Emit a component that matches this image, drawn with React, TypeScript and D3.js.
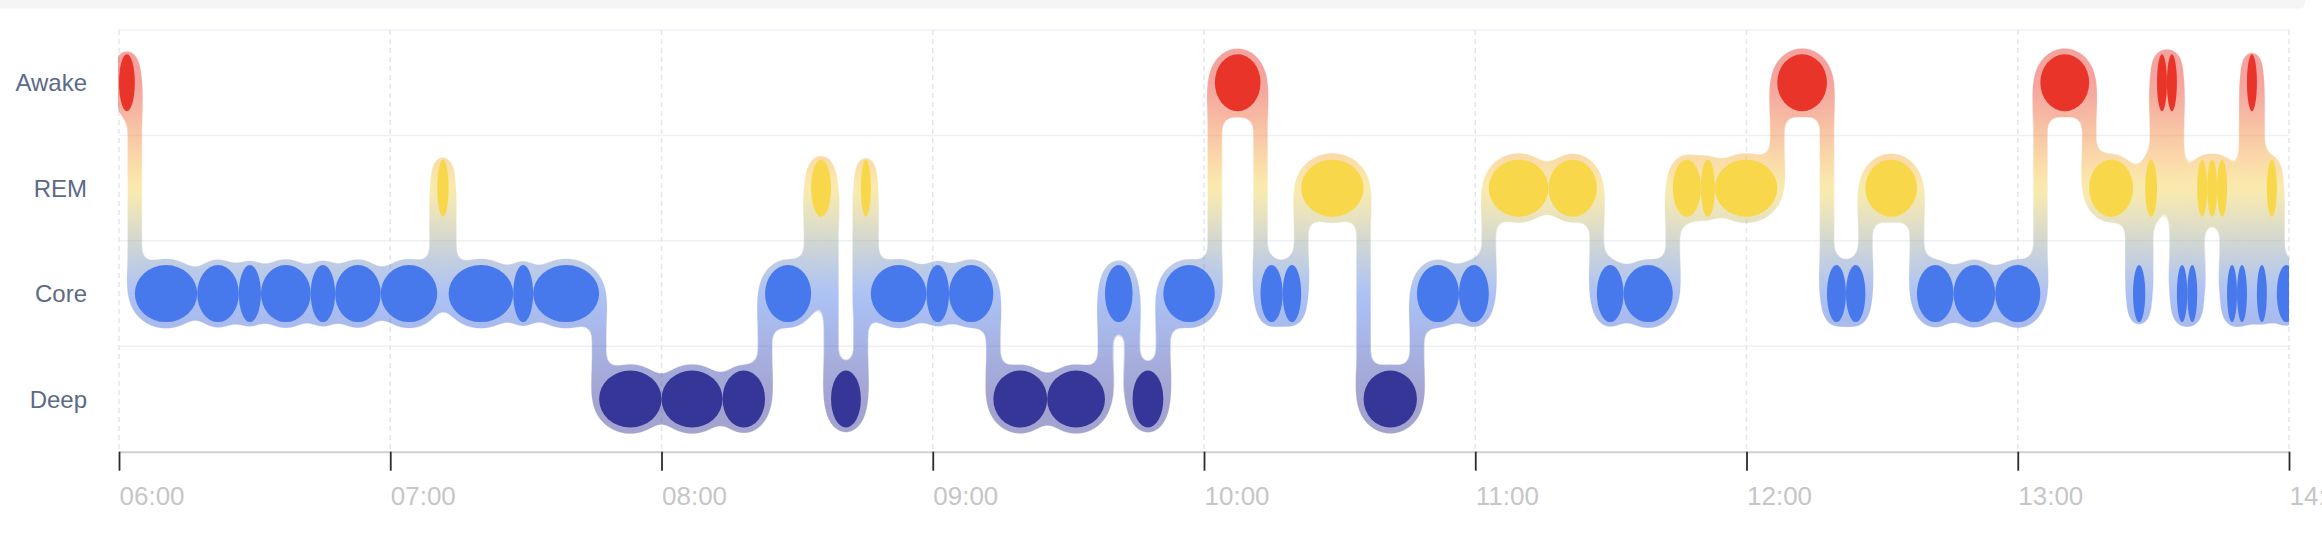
import React, { useEffect, useRef } from "react";
import * as d3 from "d3";

// sleep stages, top to bottom
const stages = ["Awake", "REM", "Core", "Deep"];
const stageColors = ["#e9342a", "#f8d74a", "#4779ec", "#353698"];

// one entry per recorded segment, minutes after 06:00
const segStage = [
  "Awake", "Core", "Core", "Core", "Core", "Core", "Core", "Core", "REM", "Core",
  "Core", "Core", "Deep", "Deep", "Deep", "Core", "REM", "Deep", "REM", "Core",
  "Core", "Core", "Deep", "Deep", "Core", "Deep", "Core", "Awake", "Core", "Core",
  "REM", "Deep", "Core", "Core", "REM", "REM", "Core", "Core", "REM", "REM",
  "REM", "Awake", "Core", "Core", "REM", "Core", "Core", "Core", "Awake", "REM",
  "Core", "REM", "Awake", "Awake", "Core", "Core", "REM", "REM", "REM", "Core",
  "Core", "Awake", "Core", "REM", "Core",
];
const segStartMin = [
  0, 3.5, 17.3, 26.5, 31.4, 42.4, 47.8, 57.9, 70.4, 72.9,
  87.2, 91.6, 106.2, 120.0, 133.5, 142.9, 153.1, 157.5, 164.1, 166.3,
  178.6, 183.6, 193.4, 205.3, 218.1, 224.2, 231.0, 242.4, 252.5, 257.4,
  261.5, 275.3, 287.1, 296.4, 303.0, 316.2, 326.9, 332.8, 343.7, 349.9,
  353.0, 366.8, 377.8, 382.0, 386.3, 397.7, 405.8, 415.0, 425.0, 435.8,
  445.5, 448.2, 450.8, 453.0, 455.2, 457.5, 459.7, 461.9, 464.1, 466.3,
  468.5, 470.7, 472.9, 475.1, 477.3,
];
const sleepEndMin = 481.5;
const axisHours = [6, 14];

const W = 2322;
const H = 542;
const margin = { top: 30, right: 33, bottom: 90.3, left: 119 };
const ellipseRy = 28.5;
const haloPad = 5.3;
const linkWidth = 12.5;
const fontFamily = "'Liberation Sans', Arial, Helvetica, sans-serif";

const SleepStages: React.FC = () => {
  const svgRef = useRef<SVGSVGElement | null>(null);

  useEffect(() => {
    if (!svgRef.current) return;
    const svg = d3.select(svgRef.current);
    svg.selectAll("*").remove();

    const base = new Date(2024, 0, 1, 0, 0, 0);
    const toDate = (m: number) => new Date(base.getTime() + (axisHours[0] * 60 + m) * 60000);

    const x = d3
      .scaleTime()
      .domain([toDate(0), toDate((axisHours[1] - axisHours[0]) * 60)])
      .range([margin.left, W - margin.right]);
    const y = d3
      .scaleBand<string>()
      .domain(stages)
      .range([margin.top, H - margin.bottom]);
    const cy = (s: string) => (y(s) ?? 0) + y.bandwidth() / 2;
    const color = d3.scaleOrdinal<string, string>().domain(stages).range(stageColors);

    const segs = segStage.map((s, i) => ({
      stage: s,
      x0: x(toDate(segStartMin[i])),
      x1: x(toDate(i + 1 < segStartMin.length ? segStartMin[i + 1] : sleepEndMin)),
    }));

    const x0 = margin.left;
    const x1 = W - margin.right;
    const yTop = margin.top;
    const yBot = H - margin.bottom;

    // card edge above
    svg.append("rect")
      .attr("x", -6).attr("y", -4).attr("width", 2311).attr("height", 12.5)
      .attr("rx", 5).attr("fill", "#f5f5f6");

    const defs = svg.append("defs");
    defs.append("clipPath").attr("id", "plotClip")
      .append("rect")
      .attr("x", x0 - 1).attr("y", 0)
      .attr("width", x1 - x0 + 1).attr("height", H);

    const grad = defs.append("linearGradient")
      .attr("id", "stageGrad")
      .attr("gradientUnits", "userSpaceOnUse")
      .attr("x1", 0).attr("x2", 0)
      .attr("y1", cy(stages[0])).attr("y2", cy(stages[stages.length - 1]));
    stages.forEach((s, i) => {
      grad.append("stop")
        .attr("offset", i / (stages.length - 1))
        .attr("stop-color", color(s));
    });

    const filter = defs.append("filter")
      .attr("id", "goo")
      .attr("filterUnits", "userSpaceOnUse")
      .attr("x", 0).attr("y", 0).attr("width", W).attr("height", H)
      .attr("color-interpolation-filters", "sRGB");
    filter.append("feGaussianBlur")
      .attr("in", "SourceGraphic").attr("stdDeviation", 8).attr("result", "blur");
    filter.append("feColorMatrix")
      .attr("in", "blur").attr("mode", "matrix")
      .attr("values", "1 0 0 0 0  0 1 0 0 0  0 0 1 0 0  0 0 0 18 -7");

    // grid
    stages.forEach((s) => {
      svg.append("line")
        .attr("x1", x0).attr("x2", x1)
        .attr("y1", y(s)!).attr("y2", y(s)!)
        .attr("stroke", "#edf1f6").attr("stroke-width", 1.5);
    });
    const hours = x.ticks(d3.timeHour.every(1)!);
    svg.append("g")
      .selectAll("line")
      .data(hours)
      .join("line")
      .attr("x1", (d) => x(d)).attr("x2", (d) => x(d))
      .attr("y1", yTop).attr("y2", yBot)
      .attr("stroke", "#e3e6ee").attr("stroke-width", 1.5)
      .attr("stroke-dasharray", "5,4");

    // halo
    const haloClip = svg.append("g").attr("clip-path", "url(#plotClip)");
    const halo = haloClip.append("g")
      .attr("filter", "url(#goo)")
      .attr("opacity", 0.45);
    halo.selectAll("ellipse")
      .data(segs)
      .join("ellipse")
      .attr("cx", (d) => (d.x0 + d.x1) / 2)
      .attr("cy", (d) => cy(d.stage))
      .attr("rx", (d) => (d.x1 - d.x0) / 2)
      .attr("ry", ellipseRy)
      .attr("fill", "url(#stageGrad)")
      .attr("stroke", "url(#stageGrad)")
      .attr("stroke-width", haloPad * 2);
    const links = segs
      .map((d, i) => (i > 0 && segs[i - 1].stage !== d.stage ? { x: d.x0, a: cy(segs[i - 1].stage), b: cy(d.stage) } : null))
      .filter((d): d is { x: number; a: number; b: number } => d !== null);
    halo.selectAll("rect")
      .data(links)
      .join("rect")
      .attr("x", (d) => d.x - linkWidth / 2)
      .attr("width", linkWidth)
      .attr("y", (d) => Math.min(d.a, d.b))
      .attr("height", (d) => Math.abs(d.a - d.b))
      .attr("fill", "url(#stageGrad)");

    // segments
    haloClip.append("g")
      .selectAll("ellipse")
      .data(segs)
      .join("ellipse")
      .attr("cx", (d) => (d.x0 + d.x1) / 2)
      .attr("cy", (d) => cy(d.stage))
      .attr("rx", (d) => (d.x1 - d.x0) / 2)
      .attr("ry", ellipseRy)
      .attr("fill", (d) => color(d.stage));

    // x axis
    const xAxis = d3.axisBottom(x)
      .ticks(d3.timeHour.every(1)!)
      .tickFormat((d) => d3.timeFormat("%H:%M")(d as Date))
      .tickSize(19)
      .tickSizeOuter(0);
    const gx = svg.append("g")
      .attr("transform", `translate(0,${yBot})`)
      .call(xAxis);
    gx.select(".domain").attr("stroke", "#cfcfcf").attr("stroke-width", 2);
    gx.selectAll(".tick line").attr("stroke", "#2b2b2b").attr("stroke-width", 1.8);
    gx.selectAll(".tick text")
      .attr("x", 0).attr("y", 53).attr("dy", 0)
      .attr("text-anchor", "start")
      .attr("fill", "#c6c6c6")
      .style("font-size", "26px")
      .style("font-family", fontFamily);

    // y labels
    svg.append("g")
      .selectAll("text")
      .data(stages)
      .join("text")
      .attr("x", 87)
      .attr("y", (d) => cy(d))
      .attr("dy", "0.36em")
      .attr("text-anchor", "end")
      .attr("fill", "#5b6a86")
      .style("font-size", "24px")
      .style("font-family", fontFamily)
      .text((d) => d);
  }, []);

  return (
    <div style={{ width: W, height: H, overflow: "hidden", background: "#fff" }}>
      <style>{"body{margin:0;background:#fff}"}</style>
      <svg ref={svgRef} width={W} height={H} style={{ display: "block", overflow: "visible" }} />
    </div>
  );
};

export default SleepStages;
